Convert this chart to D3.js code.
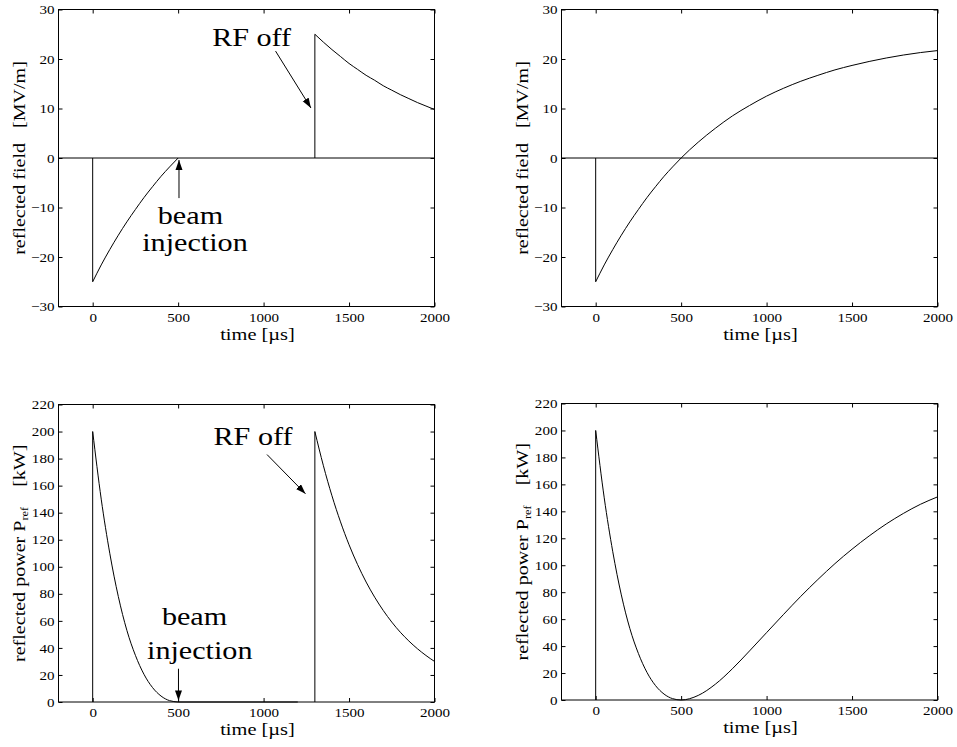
<!DOCTYPE html>
<html><head><meta charset="utf-8">
<script src="https://cdn.jsdelivr.net/npm/d3@7"></script>
<style>
body{margin:0;background:#fff}
svg{display:block}
text{font-family:"Liberation Serif","Times New Roman",serif;fill:#000}
</style>
</head><body><svg id="c" width="957" height="747"></svg>
<script>
// ---------- data ----------
const xTicks = [0, 500, 1000, 1500, 2000];
const fieldTicks = [-30, -20, -10, 0, 10, 20, 30];
const powerTicks = [0, 20, 40, 60, 80, 100, 120, 140, 160, 180, 200, 220];

// filling phase (0..500 us)
const fillTime  = [0, 50, 100, 150, 200, 250, 300, 350, 400, 450, 500];
const fieldFill = [-25, -21.6, -18.5, -15.6, -12.9, -10.4, -8.0, -5.8, -3.7, -1.8, 0];
const powerFill = [200, 150, 110, 78, 53, 34.5, 20.5, 10.7, 4.4, 1.0, 0];

// beam-on flat top (power)
const flatTime  = [500, 1200];
const powerFlat = [0, 0];

// after RF off (1300..2000 us)
const offTime  = [1300, 1350, 1400, 1450, 1500, 1550, 1600, 1650, 1700, 1750, 1800, 1850, 1900, 1950, 2000];
const fieldOff = [25, 23.4, 21.9, 20.5, 19.1, 17.9, 16.7, 15.7, 14.6, 13.7, 12.8, 12.0, 11.2, 10.5, 9.8];
const powerOff = [200, 174.7, 152.5, 133.2, 116.3, 101.6, 88.7, 77.5, 67.7, 59.1, 51.6, 45.1, 39.4, 34.4, 30.0];

// no beam, RF kept on (right column)
const longTime  = [0, 50, 100, 150, 200, 250, 300, 350, 400, 450, 500, 600, 700, 800, 900, 1000, 1100, 1200, 1300, 1400, 1500, 1600, 1700, 1800, 1900, 2000];
const fieldLong = [-25, -21.6, -18.5, -15.6, -12.9, -10.4, -8.0, -5.8, -3.7, -1.8, 0, 3.2, 6.0, 8.5, 10.6, 12.5, 14.1, 15.5, 16.7, 17.8, 18.7, 19.5, 20.2, 20.8, 21.3, 21.7];
const powerLong = [200, 150, 110, 78, 53, 34.5, 20.5, 10.7, 4.4, 1.0, 0, 3.4, 11.7, 23.2, 36.4, 50.0, 63.6, 76.9, 89.4, 101.2, 111.9, 121.7, 130.6, 138.4, 145.2, 150.7];

const fieldLabel = ["reflected field", "   [MV/m]"];
const powerLabel = ["reflected power P", "ref", "    [kW]"];
const xLabel = "time [\u00B5s]";

// annotations in data coordinates
const fieldNotes = [{t:"RF off", x:699, y:22.7}, {t:"beam", x:381, y:-13.3}, {t:"injection", x:290, y:-18.8}];
const fieldArrows = [{x1:1070, y1:21.6, x2:1277, y2:10.1}, {x1:505, y1:-8.1, x2:505, y2:-0.4}];
const powerNotes = [{t:"RF off", x:707, y:189.7}, {t:"beam", x:405, y:56.8}, {t:"injection", x:318, y:31.7}];
const powerArrows = [{x1:1020, y1:183, x2:1245, y2:154}, {x1:502, y1:24.6, x2:502, y2:1.2}];

// ---------- drawing ----------
const svg = d3.select("#c");
svg.append("rect").attr("width",957).attr("height",747).attr("fill","#fff");

const defs = svg.append("defs");
defs.append("marker").attr("id","ah").attr("markerUnits","userSpaceOnUse")
  .attr("markerWidth",11).attr("markerHeight",8).attr("refX",10).attr("refY",3.5)
  .attr("orient","auto")
  .append("path").attr("d","M0,0L10,3.5L0,7Z").attr("fill","#000");

const zipS = (xs, ys) => xs.map((x,i)=>[x, ys[i]]);

const panels = [
  {left:58.5, top:9.5, w:376, h:297, yDom:[-30,30], yTicks:fieldTicks, label:"field",
   series:[
     {d:[[-200,0],[2000,0]]},
     {d:[[0,0],[0,fieldFill[0]]]},
     {d:zipS(fillTime, fieldFill), smooth:true},
     {d:[[1300,0],[1300,fieldOff[0]]]},
     {d:zipS(offTime, fieldOff), smooth:true}
   ], notes:fieldNotes, arrows:fieldArrows},
  {left:561.5, top:9.5, w:376, h:297, yDom:[-30,30], yTicks:fieldTicks, label:"field",
   series:[
     {d:[[-200,0],[2000,0]]},
     {d:[[0,0],[0,fieldLong[0]]]},
     {d:zipS(longTime, fieldLong), smooth:true}
   ], notes:[], arrows:[]},
  {left:58.5, top:404.5, w:376, h:297.5, yDom:[0,220], yTicks:powerTicks, label:"power",
   series:[
     {d:[[0,0],[0,powerFill[0]]]},
     {d:zipS(fillTime, powerFill), smooth:true},
     {d:zipS(flatTime, powerFlat)},
     {d:[[1300,0],[1300,powerOff[0]]]},
     {d:zipS(offTime, powerOff), smooth:true}
   ], notes:powerNotes, arrows:powerArrows},
  {left:561.5, top:403.5, w:376, h:296.5, yDom:[0,220], yTicks:powerTicks, label:"power",
   series:[
     {d:[[0,0],[0,powerLong[0]]]},
     {d:zipS(longTime, powerLong), smooth:true}
   ], notes:[], arrows:[]}
];

panels.forEach(p => {
  const g = svg.append("g").attr("transform",`translate(${p.left},${p.top})`);
  const x = d3.scaleLinear().domain([-200,2000]).range([0,p.w]);
  const y = d3.scaleLinear().domain(p.yDom).range([p.h,0]);

  // axes
  g.append("g").attr("transform",`translate(0,${p.h})`)
    .call(d3.axisBottom(x).tickValues(xTicks).tickSizeInner(-4).tickSizeOuter(0).tickPadding(6).tickFormat(d3.format("d")));
  g.append("g")
    .call(d3.axisLeft(y).tickValues(p.yTicks).tickSizeInner(-4).tickSizeOuter(0).tickPadding(3.5).tickFormat(d3.format("d")));
  g.append("g").call(d3.axisTop(x).tickValues(xTicks).tickSizeInner(-4).tickSizeOuter(0).tickFormat(""));
  g.append("g").attr("transform",`translate(${p.w},0)`)
    .call(d3.axisRight(y).tickValues(p.yTicks).tickSizeInner(-4).tickSizeOuter(0).tickFormat(""));
  g.selectAll(".domain").remove();
  g.selectAll(".tick line").attr("stroke","#000");
  g.selectAll(".tick text").attr("font-size",13).attr("font-family","Liberation Serif")
    .attr("transform","scale(1.16,1)");

  // frame
  g.append("rect").attr("width",p.w).attr("height",p.h)
    .attr("fill","none").attr("stroke","#000").attr("stroke-width",1);

  // series
  const lineS = d3.line().x(d=>x(d[0])).y(d=>y(d[1])).curve(d3.curveMonotoneX);
  const lineL = d3.line().x(d=>x(d[0])).y(d=>y(d[1]));
  p.series.forEach(s => {
    g.append("path").attr("d", (s.smooth?lineS:lineL)(s.d))
      .attr("fill","none").attr("stroke","#000").attr("stroke-width",1);
  });

  // x label
  g.append("text").attr("transform",`translate(${p.w/2+11},${p.h+33}) scale(1.2,1)`)
    .attr("text-anchor","middle").attr("font-size",17).text(xLabel);

  // y label
  const yl = g.append("text")
    .attr("transform",`translate(-34,${p.h/2}) rotate(-90) scale(1.18,1)`)
    .attr("text-anchor","middle").attr("font-size",17).style("white-space","pre");
  if (p.label === "field") {
    yl.append("tspan").text(fieldLabel[0]);
    yl.append("tspan").text(fieldLabel[1]);
  } else {
    yl.append("tspan").text(powerLabel[0]);
    yl.append("tspan").attr("font-size",10.5).attr("dy",3).text(powerLabel[1]);
    yl.append("tspan").attr("dy",-3).text(powerLabel[2]);
  }

  // annotations
  p.notes.forEach(n => {
    g.append("text").attr("transform",`translate(${x(n.x)},${y(n.y)}) scale(1.16,1)`)
      .attr("font-size",26).text(n.t);
  });
  p.arrows.forEach(a => {
    g.append("line").attr("x1",x(a.x1)).attr("y1",y(a.y1)).attr("x2",x(a.x2)).attr("y2",y(a.y2))
      .attr("stroke","#000").attr("stroke-width",1).attr("marker-end","url(#ah)");
  });
});
</script>
</body></html>
